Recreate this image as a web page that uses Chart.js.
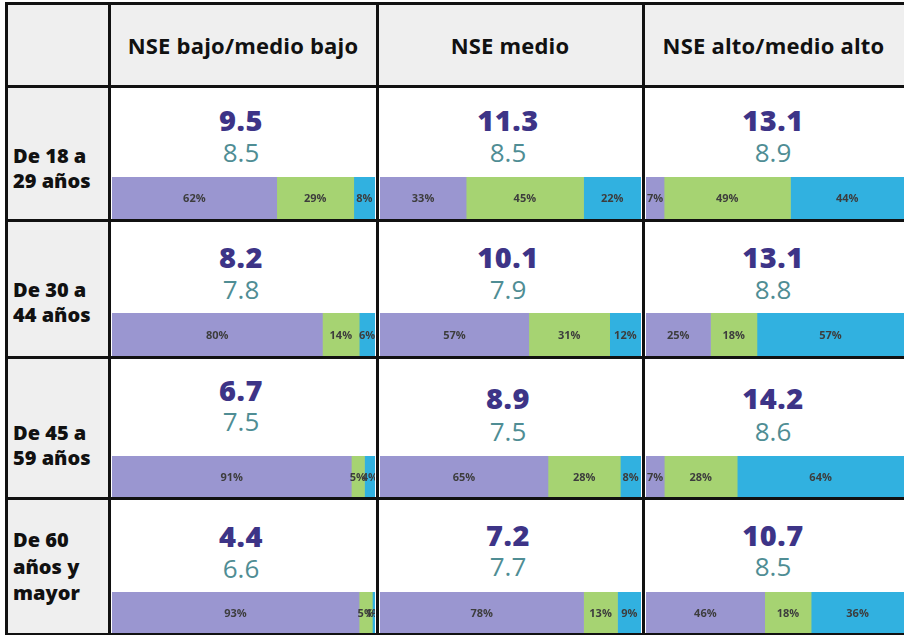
<!DOCTYPE html>
<html><head><meta charset="utf-8">
<script src="https://cdn.jsdelivr.net/npm/chart.js@4.4.1/dist/chart.umd.min.js"></script>
<style>
html,body{margin:0;padding:0;background:#fff;width:904px;height:635px;overflow:hidden;font-family:"Open Sans",sans-serif;}
#wrap{position:relative;width:904px;height:635px;}
.gray{position:absolute;background:#efefef;}
.ln{position:absolute;background:#111;}
.hdr{position:absolute;font-weight:700;font-size:22px;line-height:22px;color:#111;text-align:center;white-space:nowrap;letter-spacing:0.2px;}
.rowlab{position:absolute;left:13px;font-weight:800;font-size:20px;line-height:25px;color:#111;white-space:nowrap;}
.big{position:absolute;font-weight:800;font-size:29px;line-height:29px;color:#3d3487;text-align:center;width:200px;letter-spacing:0.5px;}
.sm{position:absolute;font-weight:400;font-size:26px;line-height:26px;color:#4f8d94;text-align:center;width:200px;}
.barbox{position:absolute;}
.barbox canvas{display:block;}
</style>
</head><body><div id="wrap"></div>
<script>
// ---- data ----
const columns = ["NSE bajo/medio bajo", "NSE medio", "NSE alto/medio alto"];
const rowLabels = [["De 18 a", "29 años"], ["De 30 a", "44 años"], ["De 45 a", "59 años"], ["De 60", "años y", "mayor"]];
const mainValues = [[9.5, 11.3, 13.1], [8.2, 10.1, 13.1], [6.7, 8.9, 14.2], [4.4, 7.2, 10.7]];
const secondValues = [[8.5, 8.5, 8.9], [7.8, 7.9, 8.8], [7.5, 7.5, 8.6], [6.6, 7.7, 8.5]];
const sharePurple = [[62, 33, 7], [80, 57, 25], [91, 65, 7], [93, 78, 46]];
const shareGreen = [[29, 45, 49], [14, 31, 18], [5, 28, 28], [5, 13, 18]];
const shareBlue = [[8, 22, 44], [6, 12, 57], [4, 8, 64], [1, 9, 36]];

// ---- layout ----
const xs = [6, 109, 377, 643, 904];
const ys = [3, 86, 220, 357, 498, 635];
const barTops = [177, 313, 456, 592];
const colCx = [241, 508, 773];
const bigCy = [[120, 120, 120], [257, 257, 257], [390, 398, 398], [536, 535, 535]];
const smCy = [[153, 153, 153], [290, 290, 290], [422, 432, 432], [569, 567, 567]];
const labelTops = [143, 277, 420, 527];
const colors = ['#9a96d0', '#a6d372', '#31b1e0'];

const wrap = document.getElementById('wrap');
function el(cls, style, text) {
  const d = document.createElement('div');
  d.className = cls;
  Object.assign(d.style, style);
  if (text !== undefined) d.textContent = text;
  wrap.appendChild(d);
  return d;
}
// gray backgrounds
el('gray', {left: xs[0] + 'px', top: ys[0] + 'px', width: (xs[4] - xs[0]) + 'px', height: (ys[1] - ys[0]) + 'px'});
el('gray', {left: xs[0] + 'px', top: ys[1] + 'px', width: (xs[1] - xs[0]) + 'px', height: (ys[5] - ys[1]) + 'px'});

// headers
columns.forEach((c, i) => {
  el('hdr', {left: xs[i + 1] + 'px', width: (xs[i + 2] - xs[i + 1]) + 'px', top: '34px'}, c);
});
// row labels
rowLabels.forEach((lines, r) => {
  const d = el('rowlab', {top: labelTops[r] + 'px', lineHeight: lines.length > 2 ? '26.5px' : '25px'});
  d.innerHTML = lines.join('<br>');
});

const segLabels = {
  id: 'segLabels',
  afterDatasetsDraw(chart) {
    const ctx = chart.ctx;
    ctx.save();
    ctx.font = '700 11px "Open Sans"';
    ctx.fillStyle = '#3d3d3d';
    ctx.textAlign = 'center';
    ctx.textBaseline = 'middle';
    chart.data.datasets.forEach((ds, i) => {
      const meta = chart.getDatasetMeta(i);
      meta.data.forEach((bar, j) => {
        const p = bar.getProps(['x', 'base', 'y'], true);
        ctx.fillText(ds.data[j] + '%', (p.x + p.base) / 2, p.y + 1);
      });
    });
    ctx.restore();
  }
};

for (let r = 0; r < 4; r++) {
  for (let c = 0; c < 3; c++) {
    el('big', {left: (colCx[c] - 100) + 'px', top: (bigCy[r][c] - 15) + 'px'}, mainValues[r][c].toFixed(1));
    el('sm', {left: (colCx[c] - 100) + 'px', top: (smCy[r][c] - 14) + 'px'}, secondValues[r][c].toFixed(1));
    const left = xs[c + 1] + 3, right = (c === 2 ? 904 : xs[c + 2] - 2);
    const top = barTops[r], bottom = ys[r + 2] - 1;
    const box = el('barbox', {left: left + 'px', top: top + 'px', width: (right - left) + 'px', height: (bottom - top) + 'px'});
    const cv = document.createElement('canvas');
    cv.width = right - left; cv.height = bottom - top;
    box.appendChild(cv);
    const vals = [sharePurple[r][c], shareGreen[r][c], shareBlue[r][c]];
    const total = vals[0] + vals[1] + vals[2];
    new Chart(cv, {
      type: 'bar',
      data: {
        labels: [''],
        datasets: vals.map((v, k) => ({data: [v], backgroundColor: colors[k], borderWidth: 0, barPercentage: 1, categoryPercentage: 1}))
      },
      options: {
        indexAxis: 'y', responsive: false, animation: false,
        layout: {padding: 0},
        plugins: {legend: {display: false}, tooltip: {enabled: false}},
        scales: {
          x: {stacked: true, display: false, min: 0, max: total},
          y: {stacked: true, display: false}
        }
      },
      plugins: [segLabels]
    });
  }
}

// grid lines
xs.slice(0, 4).forEach(x => el('ln', {left: (x - 1) + 'px', top: (ys[0] - 1) + 'px', width: '3px', height: (ys[5] - ys[0] + 1) + 'px'}));
ys.forEach((y, i) => el('ln', {left: (xs[0] - 1) + 'px', top: (i === 5 ? 633 : y - 1) + 'px', width: (xs[4] - xs[0] + 1) + 'px', height: '3px'}));
</script>
</body></html>
